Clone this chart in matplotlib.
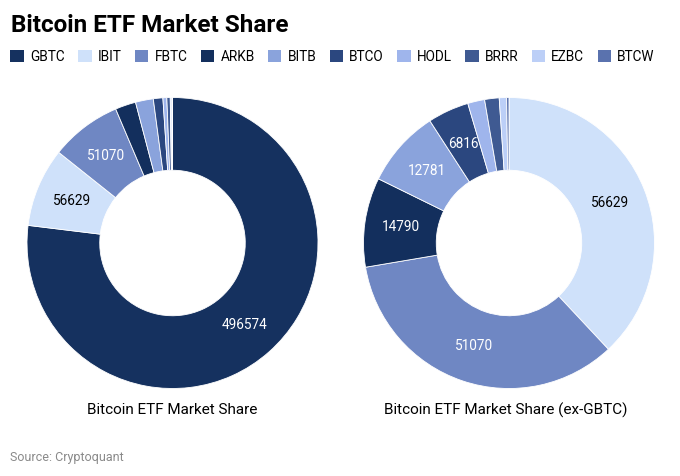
import numpy as np
import matplotlib.pyplot as plt
from matplotlib.patches import Patch

plt.rcParams['font.family'] = ['Roboto', 'DejaVu Sans']

tickers = ["GBTC", "IBIT", "FBTC", "ARKB", "BITB", "BTCO", "HODL", "BRRR", "EZBC", "BTCW"]
holdings = [496574, 56629, 51070, 14790, 12781, 6816, 2800, 2400, 1200, 400]
colors = ["#15315f", "#cfe1fa", "#6f87c3", "#132f5d", "#8aa3dc",
          "#2b477f", "#9fb5ec", "#3f5a92", "#bccff7", "#5a72ae"]
dark_text = ["IBIT"]

fig = plt.figure(figsize=(6.8, 4.76), dpi=100)
W, H = 680, 476


def donut(cx, cy, r, names, vals, cols, min_frac):
    ax = fig.add_axes([(cx - r) / W, (H - cy - r) / H, 2 * r / W, 2 * r / H])
    wedges, _ = ax.pie(vals, colors=cols, startangle=90, counterclock=False,
                       radius=1, wedgeprops=dict(width=0.5, edgecolor="white", linewidth=0.6))
    tot = float(sum(vals))
    for w, n, v in zip(wedges, names, vals):
        if v / tot < min_frac:
            continue
        ang = np.deg2rad((w.theta1 + w.theta2) / 2)
        c = "black" if n in dark_text else "white"
        ax.text(0.75 * np.cos(ang), 0.75 * np.sin(ang), str(v), ha="center",
                va="center", color=c, fontsize=9.8)
    ax.set_xlim(-1, 1)
    ax.set_ylim(-1, 1)
    ax.axis("off")


donut(172.5, 243, 145.5, tickers, holdings, colors, 0.04)
donut(509, 243, 145.5, tickers[1:], holdings[1:], colors[1:], 0.04)

fig.text(11, H - 25, "Bitcoin ETF Market Share", transform=None, fontsize=17.5,
         fontweight="bold", va="center", ha="left")
fig.text(172.5 / W, 1 - 410 / H, "Bitcoin ETF Market Share", fontsize=11,
         ha="center", va="center")
fig.text(506 / W, 1 - 410 / H, "Bitcoin ETF Market Share (ex-GBTC)", fontsize=11,
         ha="center", va="center")
fig.text(10 / W, 1 - 457 / H, "Source: Cryptoquant", fontsize=9, color="#8a8a8a",
         ha="left", va="center")

handles = [Patch(facecolor=c, label=t) for t, c in zip(tickers, colors)]
fig.legend(handles=handles, ncol=10, loc="center left", bbox_to_anchor=(5 / W, 1 - 57 / H),
           frameon=False, fontsize=9.8, handlelength=1.0, handleheight=1.0,
           handletextpad=0.45, columnspacing=0.97, borderaxespad=0)

fig.savefig("out.png", dpi=100)
